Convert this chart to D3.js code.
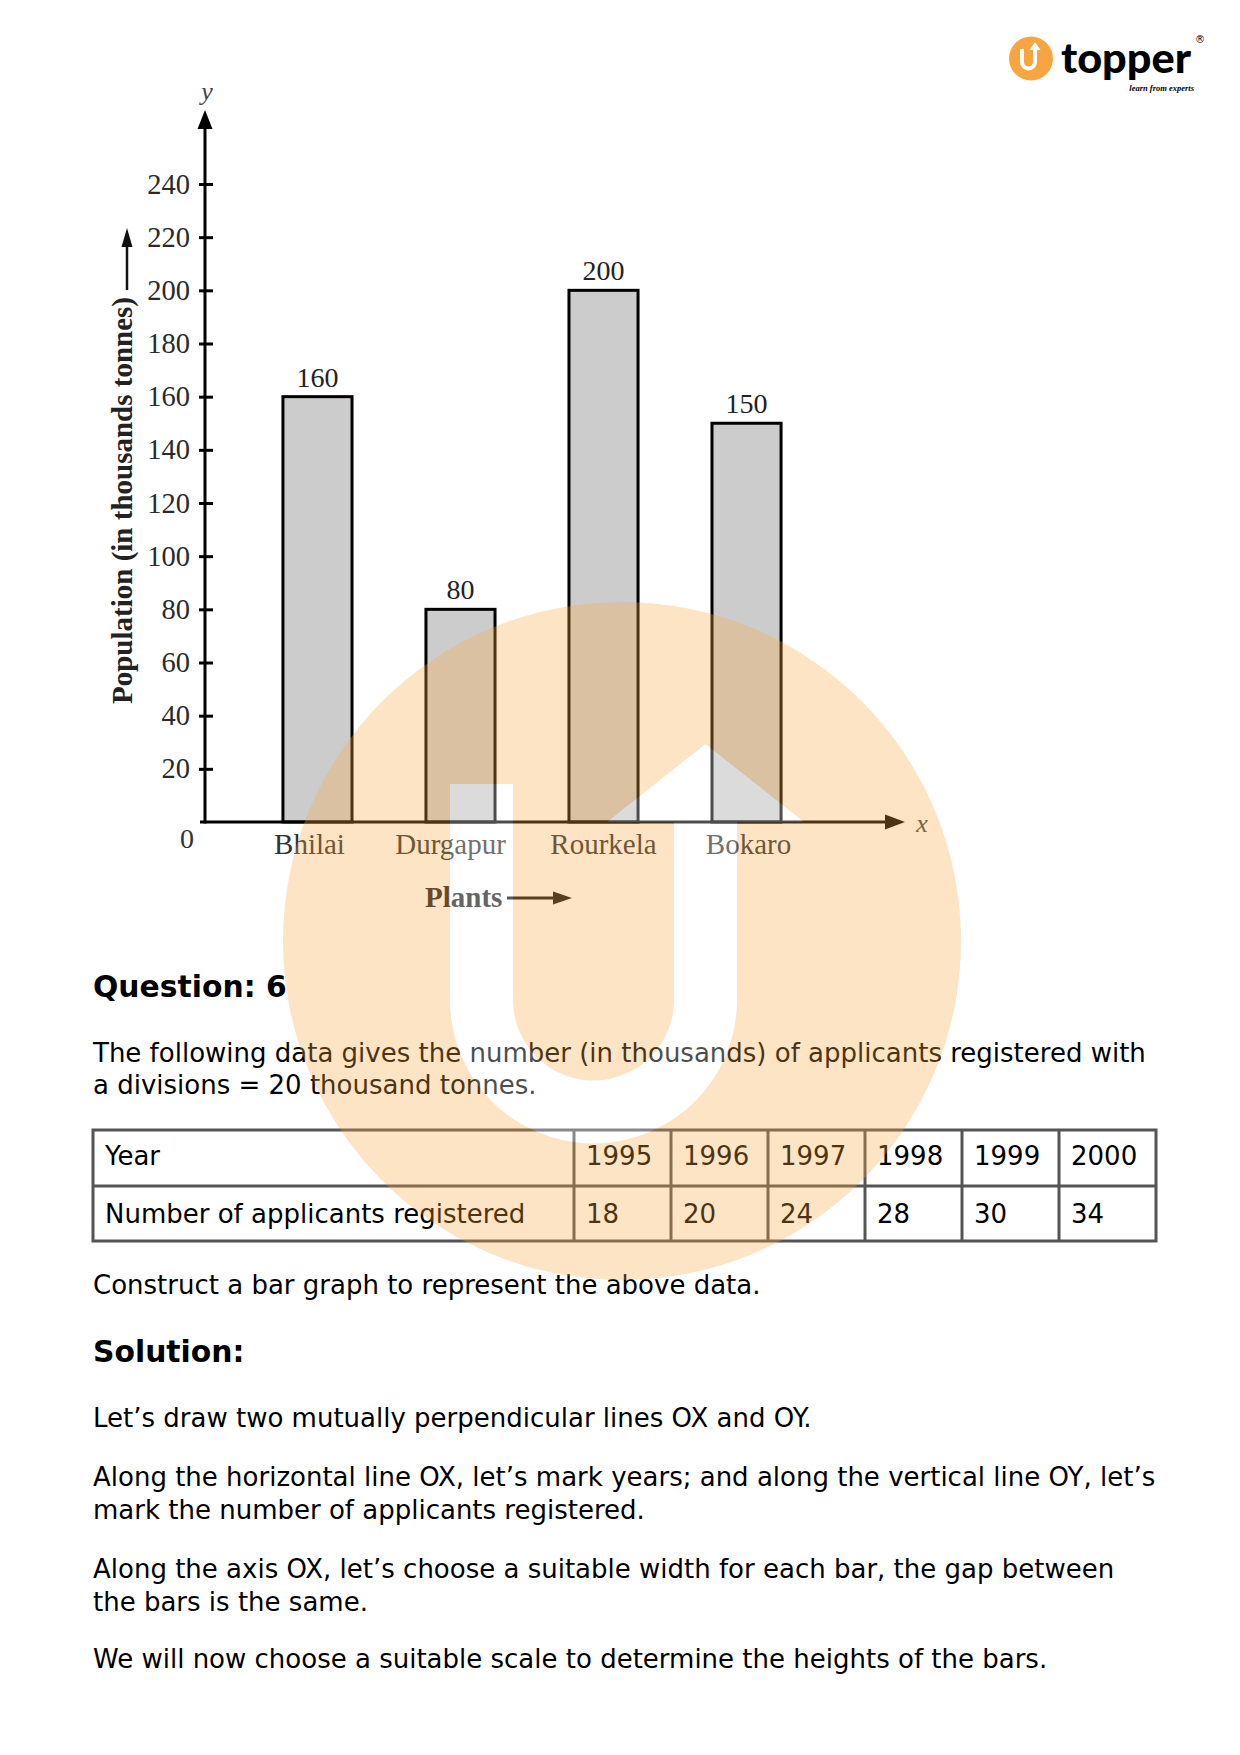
<!DOCTYPE html>
<html><head><meta charset="utf-8">
<script src="https://cdn.jsdelivr.net/npm/d3@7"></script>
<style>html,body{margin:0;padding:0;background:#fff}svg{display:block}</style>
</head><body>
<script>
// ---------- data ----------
const plants = ["Bhilai", "Durgapur", "Rourkela", "Bokaro"];
const production = [160, 80, 200, 150];
const yTicks = [20, 40, 60, 80, 100, 120, 140, 160, 180, 200, 220, 240];
const years = ["1995", "1996", "1997", "1998", "1999", "2000"];
const applicants = [18, 20, 24, 28, 30, 34];

const questionTitle = "Question: 6";
const questionLines = ["The following data gives the number (in thousands) of applicants registered with",
                       "a divisions = 20 thousand tonnes."];
const tableHeadLabels = ["Year", "Number of applicants registered"];
const constructLines = ["Construct a bar graph to represent the above data."];
const solutionTitle = "Solution:";
const solutionParas = [
  ["Let’s draw two mutually perpendicular lines OX and OY."],
  ["Along the horizontal line OX, let’s mark years; and along the vertical line OY, let’s",
   "mark the number of applicants registered."],
  ["Along the axis OX, let’s choose a suitable width for each bar, the gap between",
   "the bars is the same."],
  ["We will now choose a suitable scale to determine the heights of the bars."]
];

// ---------- setup ----------
const W = 1240, H = 1755;
const serif = "'Liberation Serif','Times New Roman',serif";
const sans = "'DejaVu Sans',Verdana,sans-serif";
const svg = d3.select("body").append("svg").attr("width", W).attr("height", H);
svg.append("rect").attr("width", W).attr("height", H).attr("fill", "#fff");

const x = d3.scaleBand().domain(plants).range([205, 859]).paddingInner(0.517).paddingOuter(0.545);
const y = d3.scaleLinear().domain([0, 240]).range([822, 184]);
const x0 = 205, y0 = y(0);

const chart = svg.append("g");

function arrowHead(g, tx, ty, dir, len, hw, color) {
  let pts;
  if (dir === "up") pts = [[tx, ty], [tx - hw, ty + len], [tx + hw, ty + len]];
  else pts = [[tx, ty], [tx - len, ty - hw], [tx - len, ty + hw]];
  g.append("polygon").attr("points", pts.map(p => p.join(",")).join(" ")).attr("fill", color);
}

// bars
chart.selectAll("rect.bar").data(plants).join("rect").attr("class", "bar")
  .attr("x", d => x(d)).attr("y", (d, i) => y(production[i]))
  .attr("width", x.bandwidth()).attr("height", (d, i) => y0 - y(production[i]))
  .attr("fill", "#cccccc").attr("stroke", "#000").attr("stroke-width", 3);

// value labels
chart.selectAll("text.val").data(plants).join("text").attr("class", "val")
  .attr("x", d => x(d) + x.bandwidth() / 2).attr("y", (d, i) => y(production[i]) - 10)
  .attr("text-anchor", "middle").attr("font-family", serif).attr("font-size", 28).attr("fill", "#222")
  .text((d, i) => production[i]);

// y axis
const gy = chart.append("g").attr("transform", `translate(${x0},0)`)
  .call(d3.axisLeft(y).tickValues(yTicks).tickSize(6).tickPadding(9).tickSizeOuter(0));
gy.select(".domain").remove();
gy.selectAll(".tick line").attr("x1", 8).attr("stroke", "#000").attr("stroke-width", 3);
gy.selectAll(".tick text").attr("font-family", serif).attr("font-size", 28.5).attr("fill", "#2a2a2a");

// x axis labels
const gx = chart.append("g").attr("transform", `translate(0,${y0})`)
  .call(d3.axisBottom(x).tickSize(0).tickPadding(11.5));
gx.select(".domain").remove();
gx.selectAll(".tick text").attr("font-family", serif).attr("font-size", 29).attr("fill", "#333")
  .attr("dx", (d, i) => [-8, -10, 0, 2][i]);

// axis lines with arrows
chart.append("line").attr("x1", x0).attr("x2", x0).attr("y1", y0 + 1.5).attr("y2", 126)
  .attr("stroke", "#000").attr("stroke-width", 3);
arrowHead(chart, x0, 110, "up", 19, 7.5, "#000");
chart.append("line").attr("x1", x0 - 5).attr("x2", 888).attr("y1", y0).attr("y2", y0)
  .attr("stroke", "#000").attr("stroke-width", 3);
arrowHead(chart, 905, y0, "right", 20, 7.5, "#000");

chart.append("text").attr("x", 207).attr("y", 100).attr("text-anchor", "middle")
  .attr("font-family", serif).attr("font-style", "italic").attr("font-size", 26).attr("fill", "#444").text("y");
chart.append("text").attr("x", 922).attr("y", 832).attr("text-anchor", "middle")
  .attr("font-family", serif).attr("font-style", "italic").attr("font-size", 26).attr("fill", "#444").text("x");
chart.append("text").attr("x", 187).attr("y", 848).attr("text-anchor", "middle")
  .attr("font-family", serif).attr("font-size", 28).attr("fill", "#333").text("0");

// y title
chart.append("text").attr("transform", "translate(132,500.5) rotate(-90)").attr("text-anchor", "middle")
  .attr("font-family", serif).attr("font-weight", "bold").attr("font-size", 29).attr("fill", "#222")
  .text("Population (in thousands tonnes)");
chart.append("line").attr("x1", 127).attr("x2", 127).attr("y1", 290).attr("y2", 245)
  .attr("stroke", "#111").attr("stroke-width", 2.5);
arrowHead(chart, 127, 228, "up", 19, 5.5, "#111");

// x title
chart.append("text").attr("x", 425).attr("y", 906.5)
  .attr("font-family", serif).attr("font-weight", "bold").attr("font-size", 29).attr("fill", "#222").text("Plants");
chart.append("line").attr("x1", 507).attr("x2", 556).attr("y1", 898).attr("y2", 898)
  .attr("stroke", "#111").attr("stroke-width", 3);
arrowHead(chart, 572, 898, "right", 19, 6.5, "#111");

// ---------- text ----------
const tx = 93, fs = 26, hfs = 29.8;
function lines(arr, baselines, bold) {
  arr.forEach((t, i) => svg.append("text").attr("x", tx).attr("y", baselines[i])
    .attr("font-family", sans).attr("font-size", bold ? hfs : fs)
    .attr("font-weight", bold ? "bold" : "normal").attr("fill", "#000").text(t));
}
lines([questionTitle], [996.7], true);
lines(questionLines, [1061.7, 1093.8]);
lines(constructLines, [1294]);
lines([solutionTitle], [1361.7], true);
lines(solutionParas[0], [1427.3]);
lines(solutionParas[1], [1486, 1518.6]);
lines(solutionParas[2], [1578.3, 1610.5]);
lines(solutionParas[3], [1668.3]);

// ---------- table ----------
const tTop = 1130, tMid = 1186, tBot = 1241, tLeft = 93, tFirst = 574, tRight = 1156;
const col = d3.scaleBand().domain(years).range([tFirst, tRight]);
const tg = svg.append("g");
const tStroke = "#555";
tg.append("rect").attr("x", tLeft).attr("y", tTop).attr("width", tRight - tLeft).attr("height", tBot - tTop)
  .attr("fill", "none").attr("stroke", tStroke).attr("stroke-width", 3);
tg.append("line").attr("x1", tLeft).attr("x2", tRight).attr("y1", tMid).attr("y2", tMid)
  .attr("stroke", tStroke).attr("stroke-width", 3);
tg.selectAll("line.col").data(years).join("line").attr("class", "col")
  .attr("x1", d => col(d)).attr("x2", d => col(d)).attr("y1", tTop).attr("y2", tBot)
  .attr("stroke", tStroke).attr("stroke-width", 3);
tg.append("text").attr("x", tLeft + 12).attr("y", 1165).attr("font-family", sans).attr("font-size", fs).text(tableHeadLabels[0]);
tg.append("text").attr("x", tLeft + 12).attr("y", 1222.7).attr("font-family", sans).attr("font-size", fs).text(tableHeadLabels[1]);
tg.selectAll("text.yr").data(years).join("text").attr("class", "yr")
  .attr("x", d => col(d) + 12).attr("y", 1165).attr("font-family", sans).attr("font-size", fs).text(d => d);
tg.selectAll("text.ap").data(years).join("text").attr("class", "ap")
  .attr("x", d => col(d) + 12).attr("y", 1222.7).attr("font-family", sans).attr("font-size", fs)
  .text((d, i) => applicants[i]);

// ---------- logo ----------
const lg = svg.append("g");
lg.append("circle").attr("cx", 1031).attr("cy", 58.5).attr("r", 22).attr("fill", "#F6A540");
lg.append("path").attr("d", "M1022,49 V62 A6.5,6.5 0 0 0 1035,62 V50").attr("fill", "none")
  .attr("stroke", "#fff").attr("stroke-width", 4);
lg.append("polygon").attr("points", "1035,42 1029.5,50 1040.5,50").attr("fill", "#fff");
lg.append("text").attr("x", 1061).attr("y", 73).attr("font-family", "Lato,'Open Sans',sans-serif")
  .attr("font-weight", 900).attr("font-size", 41).attr("textLength", 130).attr("lengthAdjust", "spacingAndGlyphs")
  .attr("fill", "#000").text("topper");
lg.append("text").attr("x", 1200).attr("y", 43).attr("text-anchor", "middle").attr("font-family", sans)
  .attr("font-size", 10).attr("fill", "#000").text("®");
lg.append("text").attr("x", 1194).attr("y", 91).attr("text-anchor", "end").attr("font-family", serif)
  .attr("font-style", "italic").attr("font-weight", "bold").attr("font-size", 8.5).attr("fill", "#000").text("learn from experts");

// ---------- watermark ----------
const wm = svg.append("g").attr("opacity", 0.3);
wm.append("circle").attr("cx", 622).attr("cy", 941).attr("r", 339).attr("fill", "#F8A841");
wm.append("path").attr("d",
  "M450,784 H513 V1000 A80.5,80.5 0 0 0 674,1000 V822 H607 L705.5,744 L804,822 H737 V1000 A143.5,143.5 0 0 1 450,1000 Z")
  .attr("fill", "#fff");
</script>
</body></html>
